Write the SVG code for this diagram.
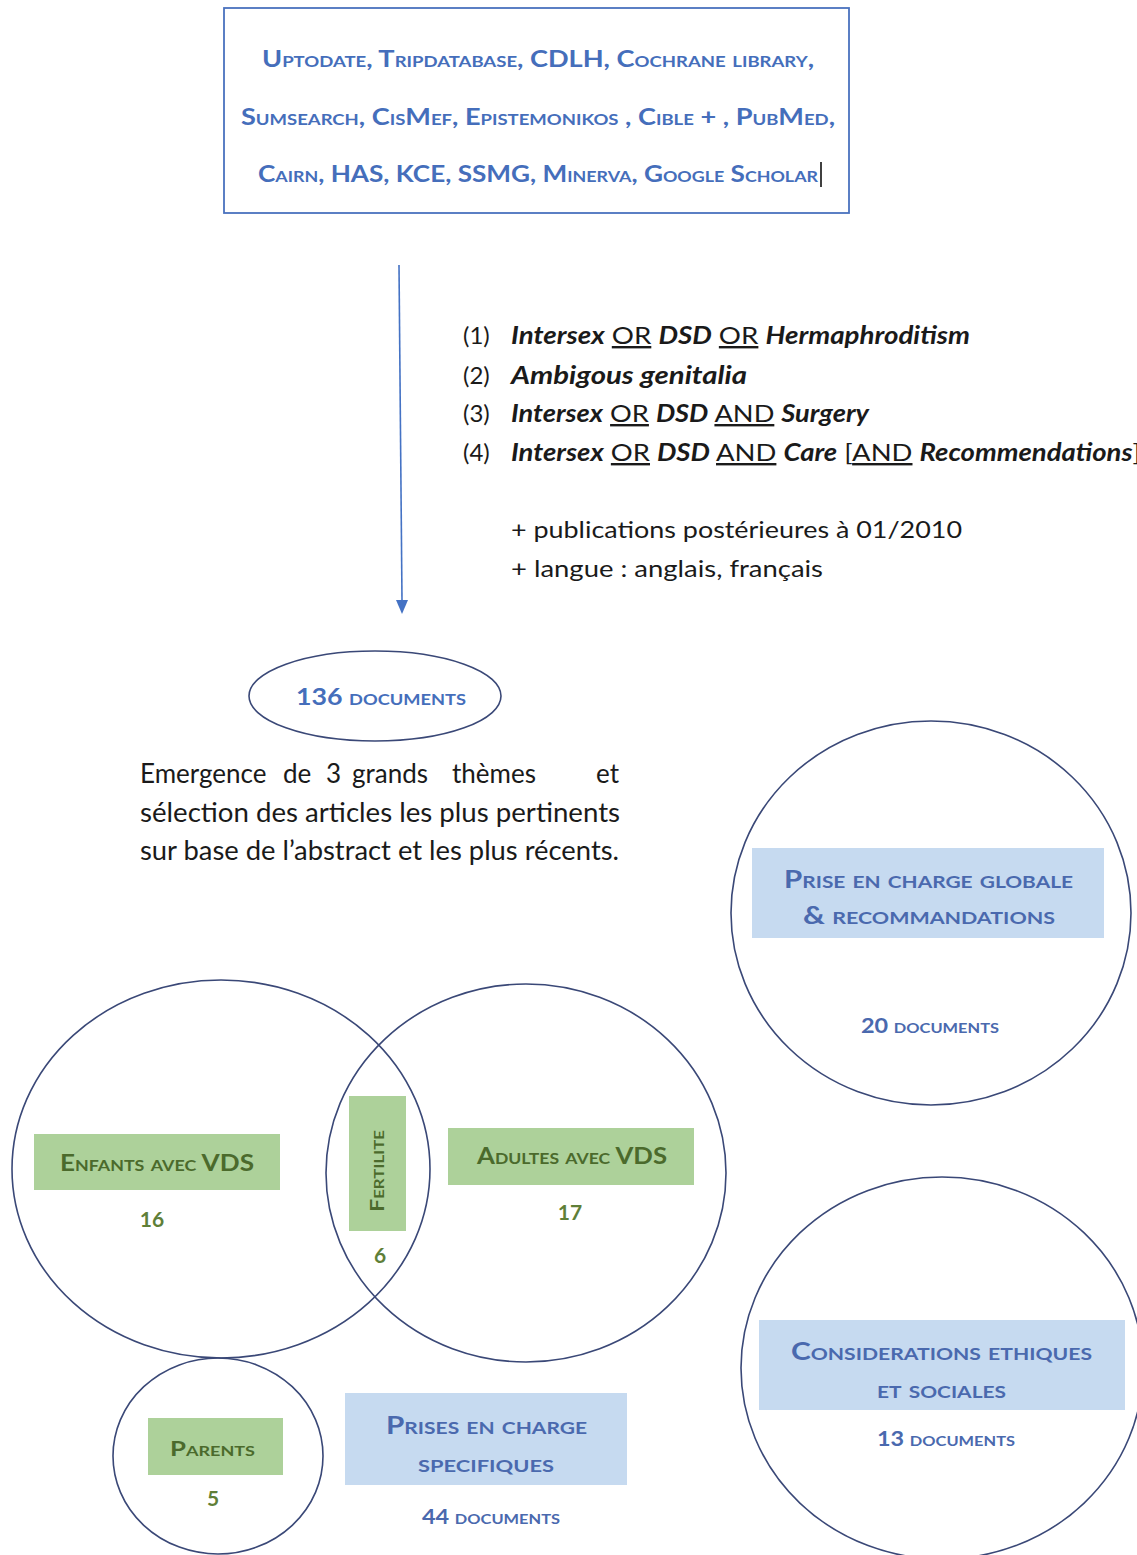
<svg xmlns="http://www.w3.org/2000/svg" width="1137" height="1555" viewBox="0 0 1137 1555">
<style>
.sc{font-family:Lato,"Open Sans","Liberation Sans",sans-serif;font-weight:bold;font-variant:small-caps;fill:#456EBB}
.scd{font-family:Lato,"Open Sans","Liberation Sans",sans-serif;font-weight:bold;font-variant:small-caps;fill:#4A69AE}
.gr{font-family:Lato,"Open Sans","Liberation Sans",sans-serif;font-weight:bold;font-variant:small-caps;fill:#4B6A2C}
.num{font-family:Lato,"Open Sans","Liberation Sans",sans-serif;font-weight:bold;fill:#5F7F38}
.body{font-family:Lato,"Open Sans","Liberation Sans",sans-serif;font-size:24px;fill:#1a1a1a}
.note{font-family:Lato,"Open Sans","Liberation Sans",sans-serif;font-size:26px;fill:#1a1a1a}
.bi{font-weight:bold;font-style:italic}
.u{text-decoration:underline}
.circ{fill:none;stroke:#3A4877;stroke-width:1.6}
.gbox{fill:#ADD19A}
.bbox{fill:#C6DAF0}
</style>

<g id="sources">
<rect x="224" y="8" width="625" height="205" fill="#fff" stroke="#4A72BE" stroke-width="1.8"/>
<text class="sc" x="262" y="67" font-size="22" textLength="552" lengthAdjust="spacingAndGlyphs">Uptodate, Tripdatabase, CDLH, Cochrane library,</text>
<text class="sc" x="241" y="125" font-size="22" textLength="594" lengthAdjust="spacingAndGlyphs">Sumsearch, CisMef, Epistemonikos , Cible + , PubMed,</text>
<text class="sc" x="258" y="182" font-size="22" textLength="560" lengthAdjust="spacingAndGlyphs">Cairn, HAS, KCE, SSMG, Minerva, Google Scholar</text>
<line x1="821" y1="162" x2="821" y2="187" stroke="#000" stroke-width="1.5"/>
</g>

<g id="connectors">
<line x1="399" y1="265" x2="402" y2="600" stroke="#4472C4" stroke-width="1.6"/>
<path d="M396,600 L402,614 L408,600 Z" fill="#4472C4"/>
</g>

<g id="query">
<text class="body" x="463" y="344">(1)</text>
<text class="body" x="511" y="344" textLength="459" lengthAdjust="spacingAndGlyphs"><tspan class="bi">Intersex</tspan> <tspan class="u">OR</tspan> <tspan class="bi">DSD</tspan> <tspan class="u">OR</tspan> <tspan class="bi">Hermaphroditism</tspan></text>
<text class="body" x="463" y="384">(2)</text>
<text class="body" x="511" y="384" textLength="236" lengthAdjust="spacingAndGlyphs"><tspan class="bi">Ambigous genitalia</tspan></text>
<text class="body" x="463" y="422">(3)</text>
<text class="body" x="511" y="422" textLength="358" lengthAdjust="spacingAndGlyphs"><tspan class="bi">Intersex</tspan> <tspan class="u">OR</tspan> <tspan class="bi">DSD</tspan> <tspan class="u">AND</tspan> <tspan class="bi">Surgery</tspan></text>
<text class="body" x="463" y="461">(4)</text>
<text class="body" x="511" y="461" textLength="630" lengthAdjust="spacingAndGlyphs"><tspan class="bi">Intersex</tspan> <tspan class="u">OR</tspan> <tspan class="bi">DSD</tspan> <tspan class="u">AND</tspan> <tspan class="bi">Care</tspan> [<tspan class="u">AND</tspan> <tspan class="bi">Recommendations</tspan>]</text>
<text class="body" x="511" y="538" textLength="451" lengthAdjust="spacingAndGlyphs">+ publications postérieures à 01/2010</text>
<text class="body" x="511" y="577" textLength="312" lengthAdjust="spacingAndGlyphs">+ langue : anglais, français</text>
</g>

<g id="total">
<ellipse cx="375" cy="696" rx="126" ry="45" class="circ"/>
<text class="sc" x="296" y="705" font-size="22" textLength="170" lengthAdjust="spacingAndGlyphs">136 documents</text>
</g>

<g id="note">
<text class="note" y="783"><tspan x="140">Emergence</tspan><tspan x="283">de</tspan><tspan x="326">3</tspan><tspan x="352">grands</tspan><tspan x="452">thèmes</tspan><tspan x="596">et</tspan></text>
<text class="note" x="140" y="822" textLength="480" lengthAdjust="spacingAndGlyphs">sélection des articles les plus pertinents</text>
<text class="note" x="140" y="860" textLength="479" lengthAdjust="spacingAndGlyphs">sur base de l’abstract et les plus récents.</text>
</g>

<g id="globale">
<ellipse cx="931" cy="913" rx="200" ry="192" class="circ"/>
<rect x="752" y="848" width="352" height="90" class="bbox"/>
<text class="scd" x="784" y="888" font-size="24" textLength="289" lengthAdjust="spacingAndGlyphs">Prise en charge globale</text>
<text class="scd" x="803" y="924" font-size="24" textLength="252" lengthAdjust="spacingAndGlyphs">&amp; recommandations</text>
<text class="scd" x="861" y="1033" font-size="20" textLength="138" lengthAdjust="spacingAndGlyphs">20 documents</text>
</g>

<g id="enfants">
<ellipse cx="221" cy="1169" rx="209" ry="189" class="circ"/>
<rect x="34" y="1134" width="246" height="56" class="gbox"/>
<text class="gr" x="60" y="1171" font-size="22" textLength="194" lengthAdjust="spacingAndGlyphs">Enfants avec VDS</text>
<text class="num" x="152" y="1227" font-size="21" text-anchor="middle">16</text>
</g>

<g id="adultes">
<ellipse cx="526" cy="1173" rx="200" ry="189" class="circ"/>
<rect x="448" y="1128" width="246" height="57" class="gbox"/>
<text class="gr" x="477" y="1164" font-size="22" textLength="190" lengthAdjust="spacingAndGlyphs">Adultes avec VDS</text>
<text class="num" x="570" y="1220" font-size="21" text-anchor="middle">17</text>
</g>

<g id="fertilite">
<rect x="349" y="1096" width="57" height="135" class="gbox"/>
<text class="gr" x="0" y="0" font-size="18" textLength="82" lengthAdjust="spacingAndGlyphs" transform="translate(384,1212) rotate(-90)">Fertilite</text>
<text class="num" x="380" y="1263" font-size="21" text-anchor="middle">6</text>
</g>

<g id="parents">
<ellipse cx="218" cy="1456" rx="105" ry="98" class="circ"/>
<rect x="148" y="1418" width="135" height="57" class="gbox"/>
<text class="gr" x="170" y="1456" font-size="20" textLength="85" lengthAdjust="spacingAndGlyphs">Parents</text>
<text class="num" x="213" y="1506" font-size="21" text-anchor="middle">5</text>
</g>

<g id="specifiques">
<rect x="345" y="1393" width="282" height="92" class="bbox"/>
<text class="scd" x="386" y="1434" font-size="24" textLength="201" lengthAdjust="spacingAndGlyphs">Prises en charge</text>
<text class="scd" x="418" y="1472" font-size="24" textLength="136" lengthAdjust="spacingAndGlyphs">specifiques</text>
<text class="scd" x="422" y="1524" font-size="20" textLength="138" lengthAdjust="spacingAndGlyphs">44 documents</text>
</g>

<g id="ethiques">
<ellipse cx="942" cy="1368" rx="201" ry="191" class="circ"/>
<rect x="759" y="1320" width="366" height="90" class="bbox"/>
<text class="scd" x="791" y="1360" font-size="24" textLength="301" lengthAdjust="spacingAndGlyphs">Considerations ethiques</text>
<text class="scd" x="877" y="1398" font-size="24" textLength="129" lengthAdjust="spacingAndGlyphs">et sociales</text>
<text class="scd" x="877" y="1446" font-size="20" textLength="138" lengthAdjust="spacingAndGlyphs">13 documents</text>
</g>
</svg>
